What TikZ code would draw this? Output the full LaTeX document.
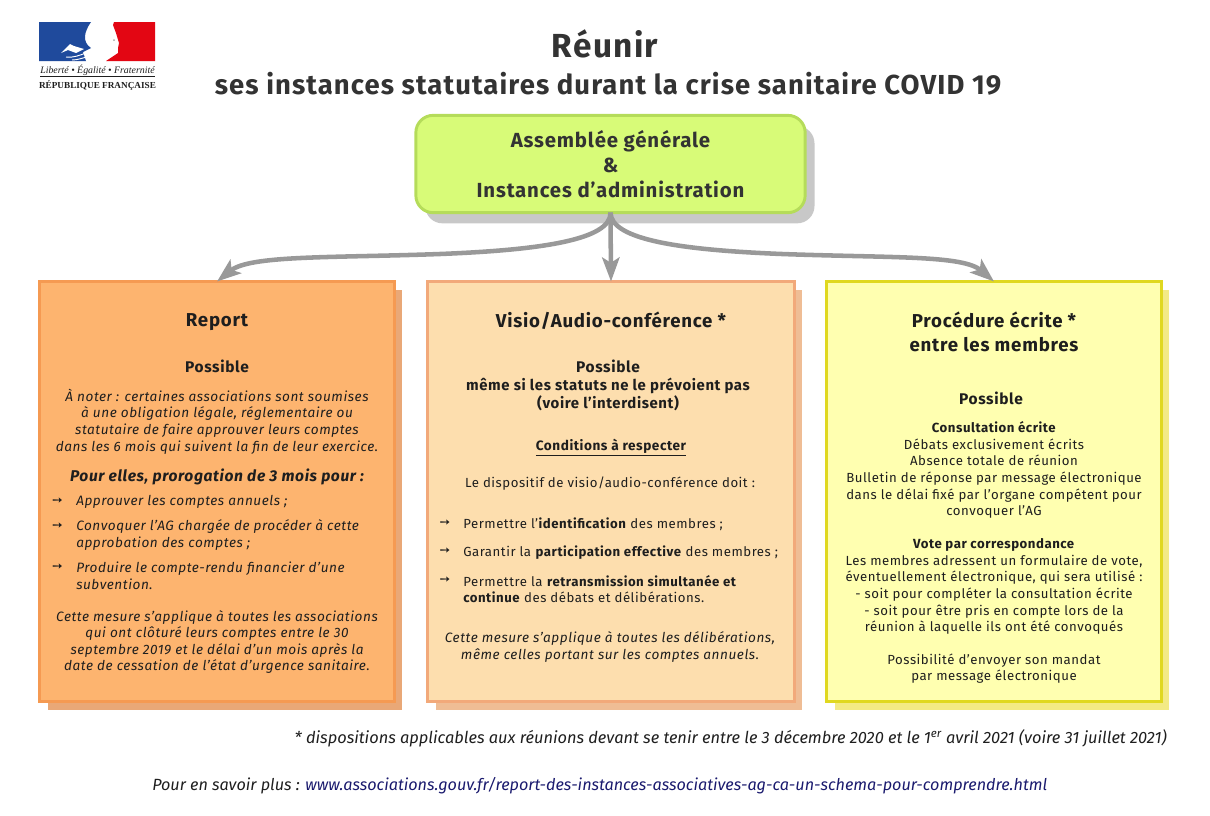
\documentclass[tikz,border=0pt]{standalone}
\usepackage{fontspec}
\setmainfont[LetterSpace=4]{Fira Sans}
\newfontfamily\notefont{Fira Sans}
\newfontfamily\logofont{Liberation Serif}
\newfontfamily\pucefont{DejaVu Sans}
\usepackage{tikz}
\usetikzlibrary{calc}
\usetikzlibrary{shapes}
\usetikzlibrary{arrows.meta}
\usetikzlibrary{shadows}
\definecolor{texte}{HTML}{1E1E1E}
\definecolor{titre}{HTML}{333333}
\definecolor{fleche}{HTML}{999999}
\definecolor{lien}{HTML}{1A1A6E}
\definecolor{bleurf}{HTML}{1F4A9C}
\definecolor{rougerf}{HTML}{E30613}
\definecolor{vertfond}{HTML}{D8FB78}
\definecolor{vertbord}{HTML}{B5DC5A}
\definecolor{grisombre}{HTML}{C8C8C8}
\definecolor{orfond}{HTML}{FDB46F}
\definecolor{orbord}{HTML}{F59A52}
\definecolor{orombre}{HTML}{E9A877}
\definecolor{pefond}{HTML}{FDDEAE}
\definecolor{pebord}{HTML}{F2A97A}
\definecolor{peombre}{HTML}{EFBD95}
\definecolor{jafond}{HTML}{FFFFB0}
\definecolor{jabord}{HTML}{E0D820}
\definecolor{jaombre}{HTML}{F3EA85}
\newcommand{\puce}{{\pucefont\bfseries\char"2799}}
\tikzset{
  cadre/.style={draw,line width=2.2pt,inner sep=0pt,outer sep=0pt},
  ombre/.style={drop shadow={shadow xshift=6pt,shadow yshift=-6pt,opacity=1,fill=#1}},
  liaison/.style={draw=fleche,line width=3.4pt,-{Stealth[length=18pt,width=13pt,inset=4pt]}},
  grand/.style={font=\bfseries\fontsize{14}{18}\selectfont,text=texte,align=center,inner sep=0pt},
  moyen/.style={font=\bfseries\fontsize{11.6}{16}\selectfont,text=texte,align=center,inner sep=0pt},
  corps/.style={font=\fontsize{9.9}{12.45}\selectfont,text=texte,align=center,inner sep=0pt},
  note/.style={corps,font=\itshape\fontsize{10.2}{12.45}\selectfont},
  puceitem/.style={corps,align=left,anchor=west},
  pucenote/.style={note,align=left,anchor=west},
  pucefl/.style={corps,font=\fontsize{9.5}{10}\selectfont},
  bas/.style={note,font=\notefont\itshape\fontsize{12.2}{14}\selectfont},
  marque/.style={font=\fontsize{8}{8}\selectfont,text=texte,inner sep=0pt}
}
\begin{document}
\begin{tikzpicture}[x=.75pt,y=-.75pt]
\useasboundingbox (0,0) rectangle (1210,815);
% logo
\fill [bleurf] (39,22) -- (91,22) .. controls (84,32) and (82,42) .. (91,48) -- (83,52) -- (86,61) -- (39,61) -- cycle;
\fill [rougerf] (114,22) -- (155,22) -- (155,61) -- (106,61) -- (118,53) -- (118,48) -- (119,43) -- (116,33) -- (113,25) -- cycle;
\fill [white] (61,53) -- (70,44) -- (74,46) -- (84,49) -- (76,53) -- (68,50) -- cycle;
\draw [white,line width=.7pt] (66,57) .. controls (74,58) and (80,55) .. (86,53) (72,60) .. controls (78,60) and (82,58) .. (87,57);
\fill [gray!70] (114,40) circle (1);
\node (devise) at (97.5,70) [marque,font=\logofont\itshape\fontsize{7.4}{8}\selectfont] {Liberté • Égalité • Fraternité};
\draw [texte,line width=.4pt] (40,76) -- (155,76);
\node (rf) at (97.5,85) [marque,font=\logofont\bfseries\fontsize{6.9}{8}\selectfont] {RÉPUBLIQUE FRANÇAISE};
% titres
\node (T1) at (605,43.5) [text=titre,font=\bfseries\fontsize{25}{28}\selectfont,inner sep=0pt] {Réunir};
\node (T2) at (608,84) [text=titre,font=\bfseries\fontsize{20.6}{24}\selectfont,inner sep=0pt] {ses instances statutaires durant la crise sanitaire COVID 19};
% les quatre cadres
\node (AG) at (610.5,164) [cadre,draw=vertbord,fill=vertfond,rounded corners=13pt,minimum width=292pt,minimum height=73pt,drop shadow={shadow xshift=7pt,shadow yshift=-8pt,opacity=1,fill=grisombre}] {};
\node (R) at (217,491.5) [cadre,ombre=orombre,draw=orbord,fill=orfond,minimum width=266pt,minimum height=315pt] {};
\node (V) at (611,491.5) [cadre,ombre=peombre,draw=pebord,fill=pefond,minimum width=275pt,minimum height=315pt] {};
\node (P) at (994,491.5) [cadre,ombre=jaombre,draw=jabord,fill=jafond,minimum width=251pt,minimum height=315pt] {};
% fleches
\coordinate (mg) at (440,254);
\coordinate (md) at (782,254);
\draw [liaison] (AG.south) .. controls (611,240) and (540,250) .. (mg) .. controls (330,258) and (250,255) .. (R.north);
\draw [liaison] (AG.south) -- (V.north);
\draw [liaison] (AG.south) .. controls (611,240) and (682,250) .. (md) .. controls (892,258) and (963,255) .. (P.north);
% cadre vert
\node (AGt) at (610.5,164) [moyen,text=titre,font=\bfseries\fontsize{15.3}{18.7}\selectfont] {Assemblée générale\\\&\\Instances d’administration};
% report
\node (R1) at (217,322) [grand] {Report};
\node (R2) at (217,366) [moyen] {Possible};
\node (R3) at (217,421.5) [note] {À noter : certaines associations sont soumises\\à une obligation légale, réglementaire ou\\statutaire de faire approuver leurs comptes\\dans les 6 mois qui suivent la fin de leur exercice.};
\node (R4) at (217,476.5) [note,font=\bfseries\itshape\fontsize{11.7}{13}\selectfont] {Pour elles, prorogation de 3 mois pour :};
\foreach \n/\y in {a/501,b/526,c/567} \node (Rp\n) at (57.5,\y) [pucefl] {\puce};
\node (R5) at (76,502) [pucenote] {Approuver les comptes annuels ;};
\node (R6) at (76,535) [pucenote] {Convoquer l’AG chargée de procéder à cette\\approbation des comptes ;};
\node (R7) at (76,575.5) [pucenote] {Produire le compte-rendu financier d’une\\subvention.};
\node (R8) at (217,642) [note] {Cette mesure s’applique à toutes les associations\\qui ont clôturé leurs comptes entre le 30\\septembre 2019 et le délai d’un mois après la\\date de cessation de l’état d’urgence sanitaire.};
% visio
\node (V1) at (611,321) [grand] {Visio/Audio-conférence *};
\node (V2) at (608,366) [moyen] {Possible};
\node (V3) at (608,394) [corps,font=\bfseries\fontsize{11.2}{13.5}\selectfont] {même si les statuts ne le prévoient pas\\(voire l’interdisent)};
\node (V4) at (611,448) [corps,font=\bfseries\fontsize{10.2}{12}\selectfont] {\underline{Conditions à respecter}};
\node (V5) at (610,483.5) [corps] {Le dispositif de visio/audio-conférence doit :};
\foreach \n/\y in {a/523,b/551,c/580} \node (Vp\n) at (445,\y) [pucefl] {\puce};
\node (V6) at (463,524) [puceitem] {Permettre l’\textbf{identification} des membres ;};
\node (V7) at (463,553) [puceitem] {Garantir la \textbf{participation effective} des membres ;};
\node (V8) at (463,589) [puceitem] {Permettre la \textbf{retransmission simultanée et}\\\textbf{continue} des débats et délibérations.};
\node (V9) at (610,647) [note] {Cette mesure s’applique à toutes les délibérations,\\même celles portant sur les comptes annuels.};
% procedure ecrite
\node (P1) at (994,332) [grand] {Procédure écrite *\\entre les membres};
\node (P2) at (991,398) [moyen] {Possible};
\node (P3) at (994,470) [corps] {\textbf{Consultation écrite}\\Débats exclusivement écrits\\Absence totale de réunion\\Bulletin de réponse par message électronique\\dans le délai fixé par l’organe compétent pour\\convoquer l’AG};
\node (P4) at (994,586.5) [corps] {\textbf{Vote par correspondance}\\Les membres adressent un formulaire de vote,\\éventuellement électronique, qui sera utilisé :\\- soit pour compléter la consultation écrite\\- soit pour être pris en compte lors de la\\réunion à laquelle ils ont été convoqués};
\node (P5) at (994,668.5) [corps] {Possibilité d’envoyer son mandat\\par message électronique};
% bas de page
\node (N1) at (1167,738.5) [bas,font=\notefont\itshape\fontsize{12.3}{14}\selectfont,anchor=east] {* dispositions applicables aux réunions devant se tenir entre le 3 décembre 2020 et le 1\textsuperscript{er} avril 2021 (voire 31 juillet 2021)};
\node (N2) at (152,786) [bas,font=\notefont\itshape\fontsize{12.15}{14}\selectfont,anchor=west] {Pour en savoir plus : \textcolor{lien}{www.associations.gouv.fr/report-des-instances-associatives-ag-ca-un-schema-pour-comprendre.html}};
\end{tikzpicture}
\end{document}
